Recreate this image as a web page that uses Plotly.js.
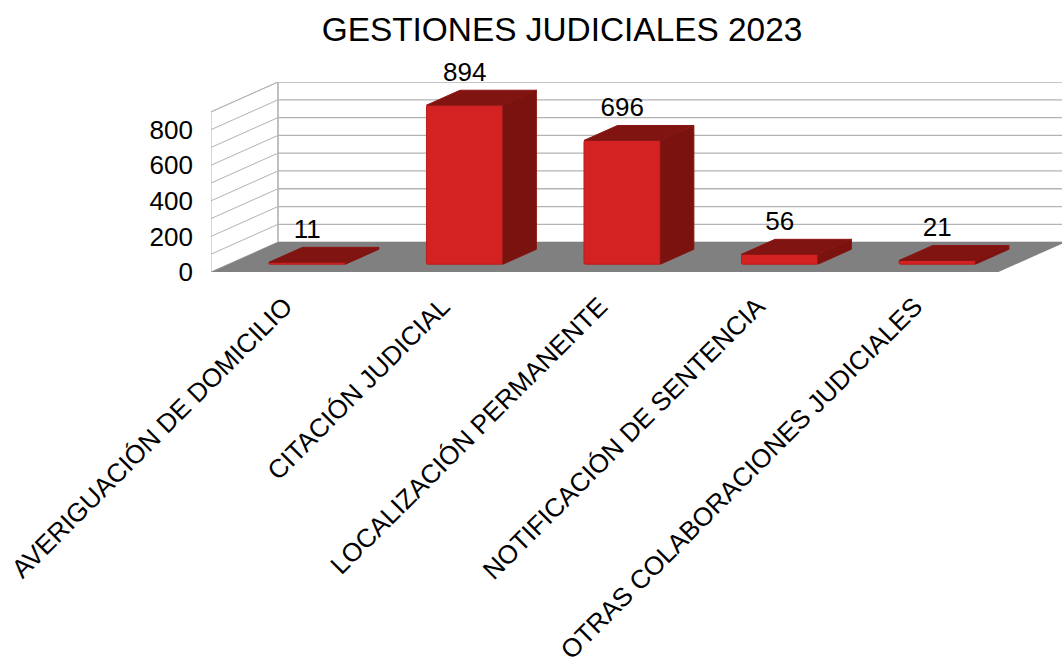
<!DOCTYPE html>
<html><head><meta charset="utf-8">
<script src="https://cdn.plot.ly/plotly-3.0.1.min.js"></script>
<style>html,body{margin:0;padding:0;background:#fff}</style></head>
<body><div id="chart" style="width:1062px;height:664px"></div>
<script>
const categories = ["AVERIGUACIÓN DE DOMICILIO","CITACIÓN JUDICIAL","LOCALIZACIÓN PERMANENTE","NOTIFICACIÓN DE SENTENCIA","OTRAS COLABORACIONES JUDICIALES"];
const values = [11,894,696,56,21];
const yTicks = [0,200,400,600,800];
const gridValues = [0,100,200,300,400,500,600,700,800,900];

// oblique projection: depth 0..1 shifts a point along these axis-unit offsets
const depthX = 0.4254, depthY = 168;
const dFront = 0.26, dBack = 0.76, barW = 0.485;
const labelLift = 17;
const xLeft = -0.5, xRight = 4.5, xEnd = 4.903, yEnd = 1068;
const font = '"Liberation Sans", Arial, sans-serif';
const px = (x,d)=>x+d*depthX, py = (y,d)=>y+d*depthY;

const topX=[],topY=[],sideX=[],sideY=[],labelX=[],labelY=[];
values.forEach((v,i)=>{
  const l=i-barW/2, r=i+barW/2;
  topX.push(px(l,dFront),px(r,dFront),px(r,dBack),px(l,dBack),px(l,dFront),null);
  topY.push(py(v,dFront),py(v,dFront),py(v,dBack),py(v,dBack),py(v,dFront),null);
  sideX.push(px(r,dFront),px(r,dBack),px(r,dBack),px(r,dFront),px(r,dFront),null);
  sideY.push(py(0,dFront),py(0,dBack),py(v,dBack),py(v,dFront),py(0,dFront),null);
  labelX.push(px(i,dFront)); labelY.push(py(v,dBack)+labelLift);
});

const traces = [
 {type:'bar',x:values.map((v,i)=>px(i,dFront)),y:values,base:values.map(()=>py(0,dFront)),width:barW,
  marker:{color:'#d42222',line:{color:'#b81e1c',width:1},cornerradius:2},hoverinfo:'skip',showlegend:false},
 {type:'scatter',mode:'lines',x:topX,y:topY,fill:'toself',fillcolor:'#7f1411',line:{color:'#8a1613',width:1},hoverinfo:'skip',showlegend:false},
 {type:'scatter',mode:'lines',x:sideX,y:sideY,fill:'toself',fillcolor:'#7a1310',line:{color:'#861512',width:1},hoverinfo:'skip',showlegend:false},
 {type:'scatter',mode:'text',x:labelX,y:labelY,text:values.map(String),textposition:'top center',
  textfont:{family:font,size:26,color:'#000'},cliponaxis:false,hoverinfo:'skip',showlegend:false}
];

const grid = '#b3b3b3';
const shapes = [
 {type:'path',layer:'below',xref:'x',yref:'y',
  path:`M${xLeft},0L${px(xLeft,1)},${depthY}L${px(xLeft,1)},${yEnd}L${xLeft},${900}Z`,
  fillcolor:'#fff',line:{color:grid,width:1}},
 {type:'line',layer:'below',xref:'x',yref:'y',x0:px(xLeft,1),x1:px(xLeft,1),y0:depthY,y1:yEnd,line:{color:grid,width:1.3}}
];
gridValues.forEach(v=>{
  if(v>0) shapes.push({type:'line',layer:'below',xref:'x',yref:'y',x0:xLeft,y0:v,x1:px(xLeft,1),y1:py(v,1),line:{color:grid,width:1}});
  shapes.push({type:'line',layer:'below',xref:'x',yref:'y',x0:px(xLeft,1),y0:py(v,1),x1:xEnd,y1:py(v,1),line:{color:grid,width:1.3}});
});
shapes.push({type:'path',layer:'below',xref:'x',yref:'y',
  path:`M${xLeft},0L${xRight},0L${px(xRight,1)},${depthY}L${px(xLeft,1)},${depthY}Z`,
  fillcolor:'#808080',line:{width:0}});

const layout = {
  width:1062,height:664,paper_bgcolor:'#fff',plot_bgcolor:'rgba(0,0,0,0)',showlegend:false,
  margin:{l:211,r:0,t:82.3,b:392.3,pad:0},
  title:{text:'GESTIONES JUDICIALES 2023',font:{family:font,size:33.4,color:'#000'},x:562/1062,xanchor:'center',xref:'container',y:1-29/664,yanchor:'middle',yref:'container'},
  xaxis:{range:[xLeft,xEnd],tickmode:'array',tickvals:categories.map((c,i)=>i),ticktext:categories,tickangle:-45,
    tickfont:{family:font,size:26,color:'#000'},showgrid:false,zeroline:false,showline:false,ticks:'',ticklabelstandoff:13,ticklabelshift:-5,automargin:false,domain:[0,1]},
  yaxis:{range:[0,yEnd],tickmode:'array',tickvals:yTicks,ticktext:yTicks.map(String),
    tickfont:{family:font,size:26,color:'#000'},showgrid:false,zeroline:false,showline:false,ticks:'',ticklabelstandoff:17,automargin:false},
  shapes:shapes,bargap:0
};
Plotly.newPlot('chart',traces,layout,{displayModeBar:false,staticPlot:true});
</script></body></html>
